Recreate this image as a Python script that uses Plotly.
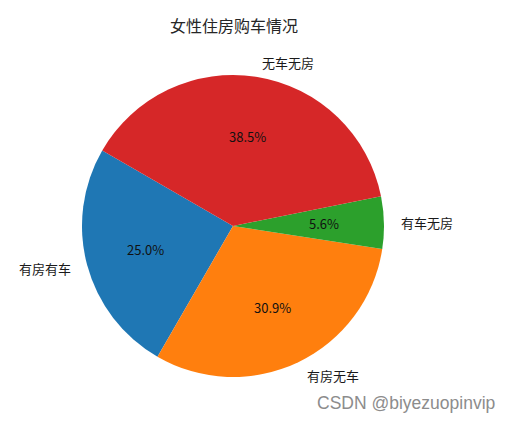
import numpy as np
import plotly.graph_objects as go

labels = ['有房有车', '有房无车', '有车无房', '无车无房']
values = [25.0, 30.9, 5.6, 38.5]
colors = ['#1f77b4', '#ff7f0e', '#2ca02c', '#d62728']

W, H = 512, 422
start_angle = 150  # degrees, counterclockwise from 3 o'clock
cx, cy, r = 233, 226, 151  # pixel centre and radius

total = sum(values)
# plotly puts the trailing edge of the first slice at `rotation` when counterclockwise
rotation = 90 - start_angle - 360 * values[0] / total

fig = go.Figure(go.Pie(
    labels=labels,
    values=values,
    sort=False,
    direction='counterclockwise',
    rotation=rotation,
    marker=dict(colors=colors, line=dict(width=0)),
    textinfo='none',
    hoverinfo='label+percent',
    showlegend=False,
    domain=dict(x=[(cx - r) / W, (cx + r) / W],
                y=[1 - (cy + r) / H, 1 - (cy - r) / H]),
))

# label and percentage positions, matplotlib style
theta = start_angle
for lab, v in zip(labels, values):
    span = 360 * v / total
    mid = np.deg2rad(theta + span / 2)
    theta += span
    lx = (cx + 1.1 * r * np.cos(mid)) / W
    ly = 1 - (cy - 1.1 * r * np.sin(mid)) / H
    fig.add_annotation(x=lx, y=ly, xref='paper', yref='paper', text=lab,
                       showarrow=False, xanchor='left' if np.cos(mid) > 0 else 'right',
                       yanchor='middle', font=dict(size=13, color='#1a1a1a'))
    px_ = (cx + 0.6 * r * np.cos(mid)) / W
    py_ = 1 - (cy - 0.6 * r * np.sin(mid)) / H
    fig.add_annotation(x=px_, y=py_, xref='paper', yref='paper', text=f'{v:.1f}%',
                       showarrow=False, xanchor='center', yanchor='middle',
                       font=dict(size=13, color='#111'))

fig.add_annotation(x=234 / W, y=1 - 25 / H, xref='paper', yref='paper',
                   text='女性住房购车情况', showarrow=False,
                   xanchor='center', yanchor='middle',
                   font=dict(size=16, color='#262626'))
fig.add_annotation(x=497 / W, y=1 - 403 / H, xref='paper', yref='paper',
                   text='CSDN @biyezuopinvip', showarrow=False,
                   xanchor='right', yanchor='middle',
                   font=dict(size=17.5, color='#8c8c8c', family='Liberation Sans, Arial'))

fig.update_layout(
    width=W, height=H,
    margin=dict(l=0, r=0, t=0, b=0),
    paper_bgcolor='white',
    font=dict(family='Noto Sans CJK SC, sans-serif'),
)

fig.write_html('out.html', config={'displayModeBar': False},
               post_script="document.body.style.margin='0px';")
